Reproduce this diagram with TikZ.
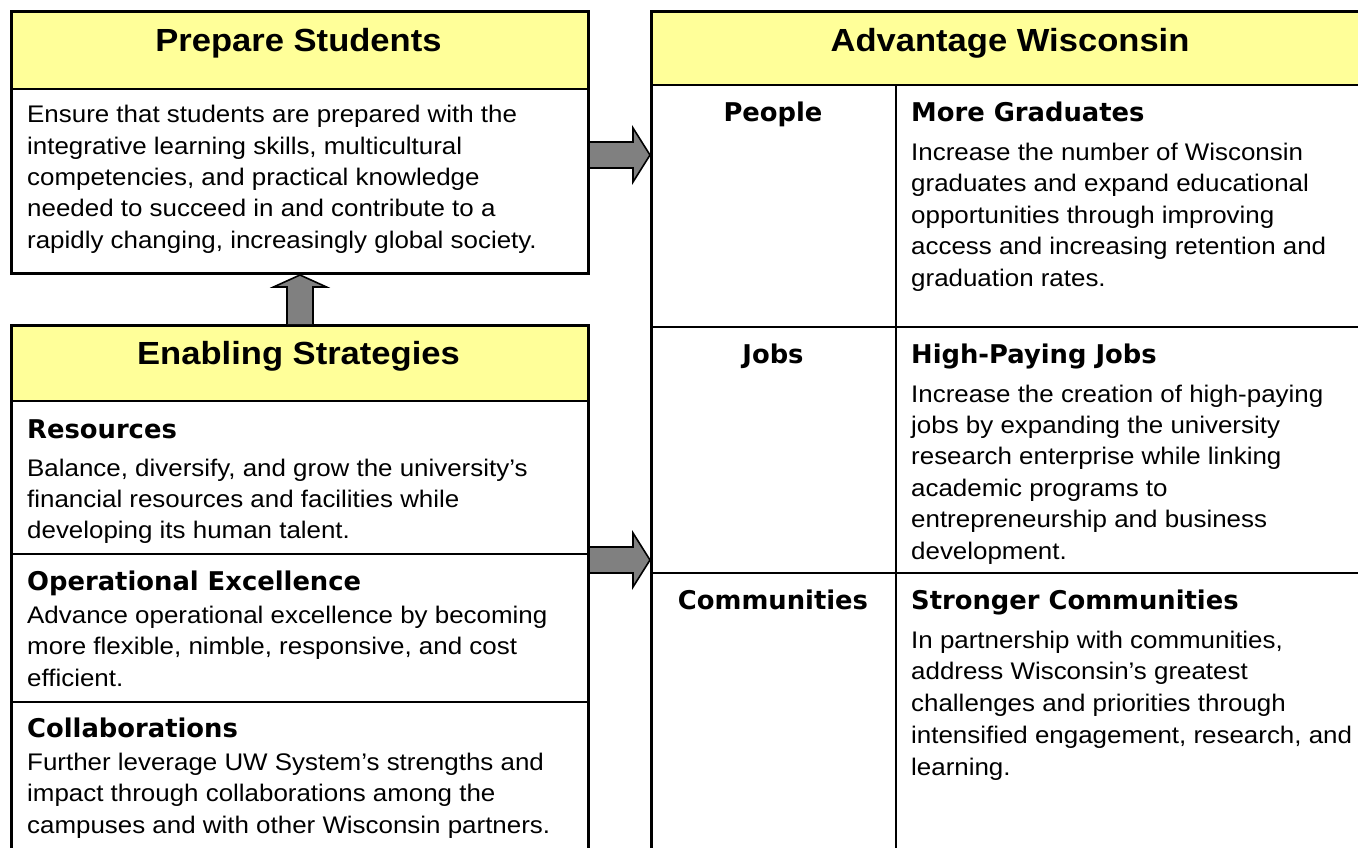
\documentclass[tikz,border=0pt]{standalone}
\usepackage{fontspec}
\setmainfont{Liberation Sans}
\newfontfamily\bodyfont[FakeStretch=1.08]{Liberation Sans}
\newfontfamily\titlefont[FakeStretch=1.08]{Liberation Sans Bold}
\newfontfamily\headfont{DejaVu Sans Bold}
\usetikzlibrary{calc}
\definecolor{hdryellow}{HTML}{FFFF99}
\definecolor{arrgray}{HTML}{808080}
\begin{document}
\begin{tikzpicture}[x=1pt,y=-1pt,
  panel/.style={draw=black,line width=3pt,inner sep=0pt,anchor=north west},
  divider/.style={draw=black,line width=2pt},
  coldiv/.style={draw=black,line width=1.6pt},
  title/.style={font=\titlefont\fontsize{32}{36}\selectfont,anchor=base,inner sep=0pt},
  heading/.style={font=\headfont\fontsize{25.8}{30}\selectfont,anchor=base west,inner sep=0pt},
  body/.style={font=\bodyfont\fontsize{24}{31.4}\selectfont,anchor=base west,inner sep=0pt,align=left},
  blockarr/.style={draw=black,line width=1.6pt,fill=arrgray,line join=miter}]
\useasboundingbox (0,0) rectangle (1358,847);
\clip (0,0) rectangle (1358,847);

% yellow header bands
\fill[hdryellow] (10,10) rectangle (587,89);
\fill[hdryellow] (10,324) rectangle (587,401);
\fill[hdryellow] (650,10) rectangle (1372,85);

% panels
\node[panel,minimum width=577pt,minimum height=262pt] (prep) at (10,10) {};
\node[panel,minimum width=577pt,minimum height=546pt] (ena) at (10,324) {};
\node[panel,minimum width=722pt,minimum height=860pt] (adv) at (650,10) {};

% inner rules
\draw[divider] (10,89) -- (587,89);
\draw[divider] (10,401) -- (587,401);
\draw[divider] (10,554) -- (587,554);
\draw[divider] (10,702) -- (587,702);
\draw[divider] (650,85) -- (1372,85);
\draw[divider] (650,327) -- (1372,327);
\draw[divider] (650,573) -- (1372,573);
\draw[coldiv] (896,85) -- (896,870);

% titles
\node[title] (tprep) at (298.5,51.5) {Prepare Students};
\node[title] (tena) at (298.5,364.5) {Enabling Strategies};
\node[title] (tadv) at (1010,51) {Advantage Wisconsin};

% Prepare Students text (anchored at the last baseline)
\node[body,font=\bodyfont\fontsize{24}{31.3}\selectfont] (bprep) at (27,248) {Ensure that students are prepared with the\\
integrative learning skills, multicultural\\
competencies, and practical knowledge\\
needed to succeed in and contribute to a\\
rapidly changing, increasingly global society.};

% Enabling strategies
\node[heading] (hres) at (27,438) {Resources};
\node[body,font=\bodyfont\fontsize{24}{31}\selectfont] (bres) at (27,538) {Balance, diversify, and grow the university’s\\
financial resources and facilities while\\
developing its human talent.};
\node[heading] (hope) at (27,590) {Operational Excellence};
\node[body,font=\bodyfont\fontsize{24}{31.5}\selectfont] (bope) at (27,686) {Advance operational excellence by becoming\\
more flexible, nimble, responsive, and cost\\
efficient.};
\node[heading] (hcol) at (27,737) {Collaborations};
\node[body,font=\bodyfont\fontsize{24}{31.5}\selectfont] (bcol) at (27,833) {Further leverage UW System’s strengths and\\
impact through collaborations among the\\
campuses and with other Wisconsin partners.};

% Advantage Wisconsin rows
\node[heading,anchor=base] (lpeo) at (773,121) {People};
\node[heading] (hgrad) at (911,121) {More Graduates};
\node[body,font=\bodyfont\fontsize{24}{31.5}\selectfont] (bgrad) at (911,286) {Increase the number of Wisconsin\\
graduates and expand educational\\
opportunities through improving\\
access and increasing retention and\\
graduation rates.};

\node[heading,anchor=base] (ljob) at (773,363) {Jobs};
\node[heading] (hjob) at (911,363) {High-Paying Jobs};
\node[body,font=\bodyfont\fontsize{24}{31.4}\selectfont] (bjob) at (911,559) {Increase the creation of high-paying\\
jobs by expanding the university\\
research enterprise while linking\\
academic programs to\\
entrepreneurship and business\\
development.};

\node[heading,anchor=base] (lcom) at (773,609) {Communities};
\node[heading] (hcom) at (911,609) {Stronger Communities};
\node[body,font=\bodyfont\fontsize{24}{31.75}\selectfont] (bcom) at (911,775) {In partnership with communities,\\
address Wisconsin’s greatest\\
challenges and priorities through\\
intensified engagement, research, and\\
learning.};

% block arrows
\coordinate (u0) at (ena.north);
\coordinate (u1) at (prep.south);
\draw[blockarr] ($(u0)+(-13,0)$) -- ($(u1)+(-13,12)$) -- ($(u1)+(-26.5,12)$) -- (u1)
  -- ($(u1)+(26.5,12)$) -- ($(u1)+(13,12)$) -- ($(u0)+(13,0)$);

\coordinate (r1s) at (prep.east |- 0,155);
\coordinate (r1e) at (adv.west |- 0,155);
\draw[blockarr] ($(r1s)+(0,-13)$) -- ($(r1e)+(-17,-13)$) -- ($(r1e)+(-17,-27)$) -- (r1e)
  -- ($(r1e)+(-17,27)$) -- ($(r1e)+(-17,13)$) -- ($(r1s)+(0,13)$);

\coordinate (r2s) at (ena.east |- 0,560);
\coordinate (r2e) at (adv.west |- 0,560);
\draw[blockarr] ($(r2s)+(0,-13)$) -- ($(r2e)+(-17,-13)$) -- ($(r2e)+(-17,-27)$) -- (r2e)
  -- ($(r2e)+(-17,27)$) -- ($(r2e)+(-17,13)$) -- ($(r2s)+(0,13)$);
\end{tikzpicture}
\end{document}
